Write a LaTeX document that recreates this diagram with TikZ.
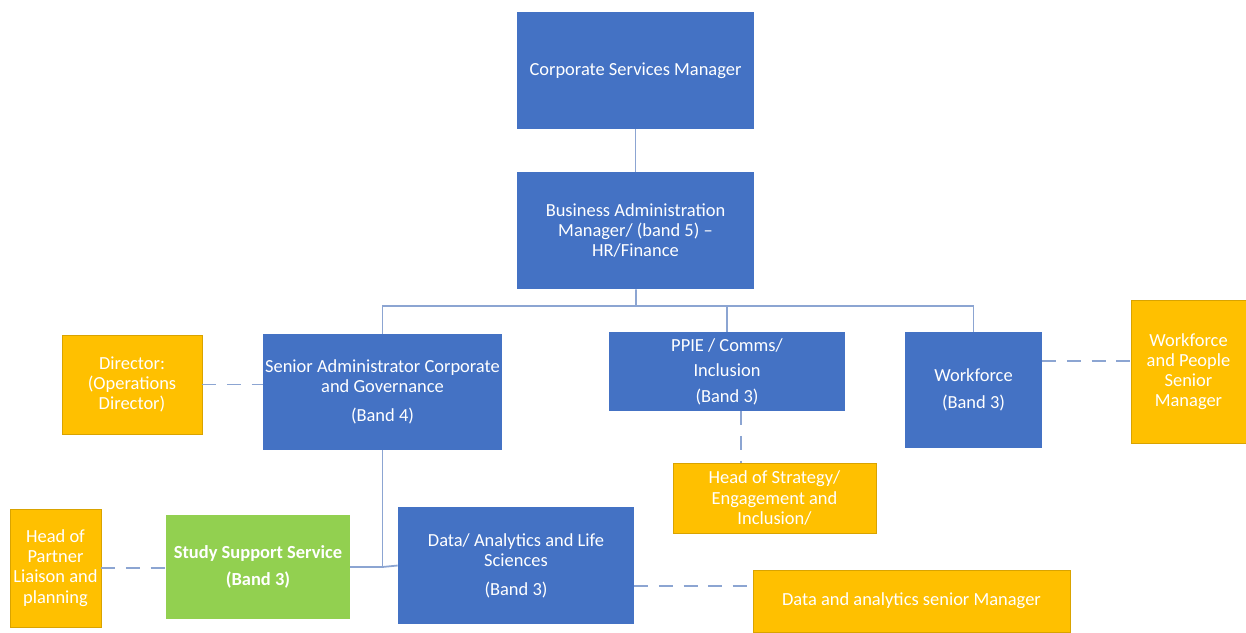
\documentclass[tikz,border=0pt]{standalone}
\usepackage{fontspec}
\setmainfont{Carlito}
\usepackage{xcolor}
\definecolor{boxblue}{RGB}{68,114,196}
\definecolor{boxorange}{RGB}{255,192,0}
\definecolor{boxgreen}{RGB}{146,208,80}
\definecolor{linkblue}{RGB}{140,165,210}

\begin{document}
\begin{tikzpicture}[x=0.02cm,y=-0.02cm,
  post/.style={fill=boxblue,text=white,align=center,inner sep=1pt,font=\fontsize{10.5}{11.5}\selectfont},
  ext/.style={post,fill=boxorange,draw=boxorange!85!black,line width=0.4pt},
  study/.style={post,fill=boxgreen,font=\fontsize{10.5}{11.5}\selectfont\bfseries},
  link/.style={linkblue,line width=1pt},
  dashlink/.style={link,dash pattern=on 8pt off 6pt}]
  \useasboundingbox (0,0) rectangle (1246,632);
  % top of the chart
  \node[post,minimum width=4.74cm,minimum height=2.34cm] (csm) at (635.5,70.5) {Corporate Services Manager};
  \node[post,minimum width=4.74cm,minimum height=2.34cm] (bam) at (635.5,230.5)
    {Business Administration\\Manager/ (band 5) --\\HR/Finance};
  \coordinate (bus) at (636,306);
  % band 3/4 posts
  \node[post,minimum width=4.74cm,minimum height=2.32cm] (sac) at (382.5,392)
    {Senior Administrator Corporate\\and Governance\\[5pt](Band 4)};
  \node[post,minimum width=4.72cm,minimum height=1.58cm] (ppie) at (727,371.5)
    {PPIE / Comms/\\[3pt]Inclusion\\[3pt](Band 3)};
  \node[post,minimum width=2.74cm,minimum height=2.32cm] (wf) at (973.5,390)
    {Workforce\\[4pt](Band 3)};
  \node[study,minimum width=3.68cm,minimum height=2.08cm] (sss) at (258,567)
    {Study Support Service\\[4pt](Band 3)};
  \node[post,minimum width=4.72cm,minimum height=2.34cm] (dal) at (516,565.5)
    {Data/ Analytics and Life\\Sciences\\[5pt](Band 3)};
  % linked managers
  \node[ext,minimum width=2.8cm,minimum height=1.98cm] (dir) at (132,384.5)
    {Director:\\(Operations\\Director)};
  \node[ext,minimum width=4.06cm,minimum height=1.4cm] (hos) at (774.5,498)
    {Head of Strategy/\\Engagement and\\Inclusion/};
  \node[ext,minimum width=2.3cm,minimum height=2.86cm] (wps) at (1188.5,371.5)
    {Workforce\\and People\\Senior\\Manager};
  \node[ext,minimum width=1.82cm,minimum height=2.36cm] (hpl) at (55.5,568)
    {Head of\\Partner\\Liaison and\\planning};
  \node[ext,minimum width=6.34cm,minimum height=1.24cm] (das) at (911.5,601)
    {Data and analytics senior Manager};
  % solid reporting lines
  \draw[link] (csm) -- (bam);
  \draw[link] (bam) -- (bus);
  \draw[link] (sac.north) |- (bus) -| (wf.north);
  \draw[link] (bus) -| (ppie.north);
  \draw[link] (sac.south) |- (sss.east);
  \draw[link] (sss.east -| sac.south) -- (dal.west);
  % dashed links
  \draw[dashlink] (dir.east) -- (dir.east -| sac.west);
  \draw[dashlink] ([xshift=0.28cm]ppie.south) -- ([xshift=0.28cm]ppie.south |- hos.north);
  \draw[dashlink] (wf.east |- 0,361) -- (wps.west |- 0,361);
  \draw[dashlink] (hpl.east) -- (hpl.east -| sss.west);
  \draw[dashlink] (dal.east |- 0,586) -- (das.west |- 0,586);
\end{tikzpicture}
\end{document}
